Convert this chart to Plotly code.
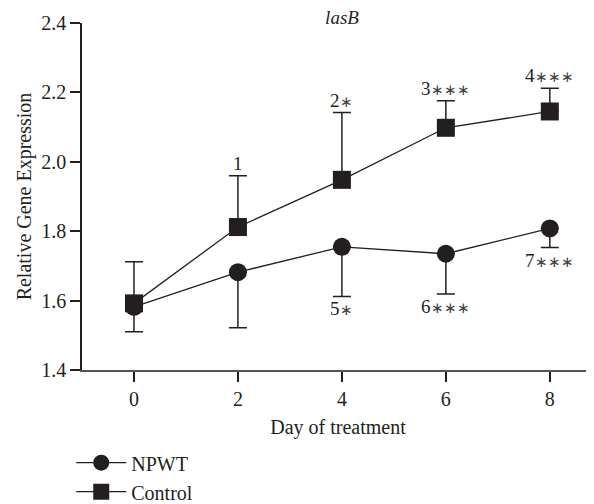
import plotly.graph_objects as go

days = [0, 2, 4, 6, 8]
npwt_mean = [1.582, 1.682, 1.755, 1.735, 1.808]
npwt_err_down = [0.072, 0.160, 0.143, 0.116, 0.055]
control_mean = [1.592, 1.812, 1.948, 2.098, 2.145]
control_err_up = [0.120, 0.148, 0.194, 0.078, 0.067]
control_label_nums = ["", "1", "2", "3", "4"]
control_label_stars = ["", "", "∗", "∗∗∗", "∗∗∗"]
npwt_label_nums = ["", "", "5", "6", "7"]
npwt_label_stars = ["", "", "∗", "∗∗∗", "∗∗∗"]
x_ticks = [0, 2, 4, 6, 8]
y_ticks = [1.4, 1.6, 1.8, 2.0, 2.2, 2.4]

FONT = "Liberation Serif"
INK = "#231f20"
FS = 20

# the page body adds an 8px offset; margins compensate for it
W, H = 594, 504
L, T, R, B = 74, 15, 8, 142


def label(num, stars):
    if not stars:
        return num
    return f"{num}<span style='font-size:15px;color:#444'>{stars}</span>"


fig = go.Figure()
fig.add_trace(go.Scatter(
    x=days, y=npwt_mean, name="NPWT", mode="lines+markers",
    line=dict(color=INK, width=1.3),
    marker=dict(symbol="circle", size=18, color=INK),
    error_y=dict(type="data", symmetric=False, array=[0] * len(days),
                 arrayminus=npwt_err_down, color=INK, thickness=1.5, width=9),
))
fig.add_trace(go.Scatter(
    x=days, y=control_mean, name="Control", mode="lines+markers",
    line=dict(color=INK, width=1.3),
    marker=dict(symbol="square", size=18, color=INK),
    error_y=dict(type="data", symmetric=False, array=control_err_up,
                 arrayminus=[0] * len(days), color=INK, thickness=1.5, width=9),
))

for d, m, e, n, s in zip(days, control_mean, control_err_up,
                         control_label_nums, control_label_stars):
    if n:
        fig.add_annotation(x=d, y=m + e, text=label(n, s), showarrow=False,
                           yanchor="bottom", yshift=0,
                           font=dict(family=FONT, size=19, color=INK))
for d, m, e, n, s in zip(days, npwt_mean, npwt_err_down,
                         npwt_label_nums, npwt_label_stars):
    if n:
        fig.add_annotation(x=d, y=m - e, text=label(n, s), showarrow=False,
                           yanchor="top", yshift=0,
                           font=dict(family=FONT, size=19, color=INK))

fig.update_layout(
    width=W, height=H,
    margin=dict(l=L, r=R, t=T, b=B, autoexpand=False),
    paper_bgcolor="white", plot_bgcolor="white",
    font=dict(family=FONT, size=FS, color=INK),
    title=dict(text="<i>lasB</i>", x=334 / W, xanchor="center",
               y=1 - 3 / H, yanchor="top",
               font=dict(family=FONT, size=19, color=INK)),
    showlegend=True,
    legend=dict(x=-0.021, y=-0.211, xanchor="left", yanchor="top",
                bgcolor="rgba(0,0,0,0)", tracegroupgap=0,
                font=dict(family=FONT, size=FS, color=INK),
                itemwidth=50),
    xaxis=dict(range=[-1, 8.85], tickvals=x_ticks, showgrid=False, zeroline=False,
               showline=True, linecolor="#555", linewidth=1.5,
               ticks="outside", ticklen=10, tickwidth=1.5, tickcolor=INK,
               tickfont=dict(family=FONT, size=FS, color=INK),
               title=dict(text="Day of treatment", standoff=11,
                          font=dict(family=FONT, size=FS, color=INK))),
    yaxis=dict(range=[1.4, 2.4], tickvals=y_ticks,
               ticktext=[f"{v:.1f}" for v in y_ticks],
               showgrid=False, zeroline=False,
               showline=True, linecolor=INK, linewidth=1.5,
               ticks="outside", ticklen=10, tickwidth=1.5, tickcolor=INK,
               tickfont=dict(family=FONT, size=FS, color=INK),
               title=dict(text="Relative Gene Expression", standoff=4,
                          font=dict(family=FONT, size=FS, color=INK))),
)

fig.write_html("out.html")
